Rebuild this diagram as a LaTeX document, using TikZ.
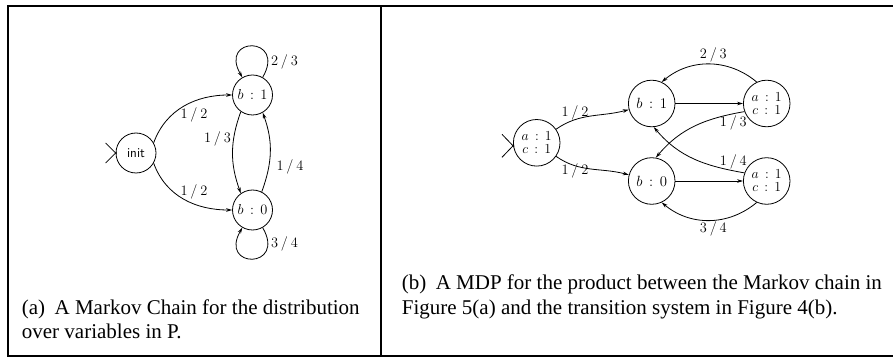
\RequirePackage{fix-cm}
\documentclass[tikz,border=0pt]{standalone}
\usepackage[no-math]{fontspec}
\setmainfont{Liberation Serif}
\usetikzlibrary{arrows.meta}
\newcommand\kv[2]{$#1\hspace{0.45em}{:}\hspace{0.45em}#2$}
\newcommand\frc[2]{$#1\hspace{0.2em}/\hspace{0.2em}#2$}
\begin{document}
\begin{tikzpicture}[x=1pt,y=1pt,
  frame/.style={line width=2pt, line cap=rect},
  st/.style={circle, draw, line width=0.8pt, inner sep=0pt},
  sa/.style={st, minimum size=40pt, font=\fontsize{14.4}{15}\selectfont},
  sb/.style={st, minimum size=46.6pt, font=\fontsize{13.8}{13}\selectfont, align=center},
  lbl/.style={inner sep=0pt, font=\fontsize{14.4}{15}\selectfont},
  captext/.style={inner sep=0pt, anchor=base west, font=\fontsize{21}{25}\selectfont},
  edge/.style={line width=0.8pt, -{Stealth[length=6pt,width=3.6pt]}},
  initmark/.style={line width=0.8pt}
]
\useasboundingbox (0,0) rectangle (893,356);
% frame
\draw[frame] (895,350) -- (7.5,350) -- (7.5,0.5) -- (895,0.5);
\draw[frame] (381,350) -- (381,0.5);

% ---------- panel (a)
\node[sa, font=\fontsize{13.5}{14}\sffamily] (ia) at (136,203) {init};
\node[sa] (a1) at (252.5,261) {\kv{b}{1}};
\node[sa] (a0) at (252.5,146) {\kv{b}{0}};
\draw[initmark] ([shift={(-10,10)}]ia.west) -- ([shift={(1,-1)}]ia.west);
\draw[initmark] ([shift={(-10,-10)}]ia.west) -- ([shift={(1,1)}]ia.west);

\draw[edge] (ia.30) to[out=70,in=180] (a1.west);
\draw[edge] (ia.-30) to[out=-70,in=180] (a0.west);
\draw[edge] (a1.235) to[out=250,in=110] (a0.125);
\draw[edge] (a0.63) to[out=70,in=-70] (a1.-60);
\draw[edge] (a1.60) .. controls +(60:48) and +(120:48) .. (a1.120);
\draw[edge] (a0.-60) .. controls +(-60:48) and +(-120:48) .. (a0.-120);

\node[lbl] (l23) at (284.5,294) {\frc{2}{3}};
\node[lbl] (l34) at (284.5,112.5) {\frc{3}{4}};
\node[lbl] (l12a) at (194,241) {\frc{1}{2}};
\node[lbl] (l12b) at (194,164) {\frc{1}{2}};
\node[lbl] (l13) at (217.5,217.5) {\frc{1}{3}};
\node[lbl] (l14) at (290,189) {\frc{1}{4}};

\node[captext] (capa1) at (21.7,42) {(a)\hspace{0.45em}A Markov Chain for the distribution};
\node[captext] (capa2) at (21.7,18) {over variables in P.};

% ---------- panel (b)
\node[sb] (bi) at (536.7,213.2) {\kv{a}{1}\\\kv{c}{1}};
\node[sb, font=\fontsize{14.8}{15}\selectfont] (b1) at (651.7,252.5) {\kv{b}{1}};
\node[sb, font=\fontsize{14.8}{15}\selectfont] (b0) at (651.7,175) {\kv{b}{0}};
\node[sb] (t1) at (766.7,252.5) {\kv{a}{1}\\\kv{c}{1}};
\node[sb] (t0) at (766.7,175) {\kv{a}{1}\\\kv{c}{1}};
\draw[initmark] ([shift={(-11,8.5)}]bi.west) -- ([shift={(1,-4)}]bi.west);
\draw[initmark] ([shift={(-11,-14.5)}]bi.west) -- ([shift={(1,-2)}]bi.west);

\draw[edge] (bi) to[out=35,in=195] (b1);
\draw[edge] (bi) to[out=-35,in=165] (b0);
\draw[edge] (b1) -- (t1);
\draw[edge] (b0) -- (t0);
\draw[edge] (t1.115) to[out=140,in=40] (b1.65);
\draw[edge] (t0.-115) to[out=-140,in=-40] (b0.-65);
\draw[edge] (t1.200) to[out=190,in=50] (b0.80);
\draw[edge] (t0.160) to[out=170,in=-50] (b1.-85);

\node[lbl] (m12a) at (575,243.2) {\frc{1}{2}};
\node[lbl] (m12b) at (575,185.2) {\frc{1}{2}};
\node[lbl] (m23) at (713.3,301.3) {\frc{2}{3}};
\node[lbl] (m34) at (713.3,127) {\frc{3}{4}};
\node[lbl] (m13) at (733.3,232.7) {\frc{1}{3}};
\node[lbl] (m14) at (733.3,194.3) {\frc{1}{4}};

\node[captext] (capb1) at (401.7,66.5) {(b)\hspace{0.45em}A MDP for the product between the Markov chain in};
\node[captext] (capb2) at (401.7,41.5) {Figure 5(a) and the transition system in Figure 4(b).};
\end{tikzpicture}
\end{document}
